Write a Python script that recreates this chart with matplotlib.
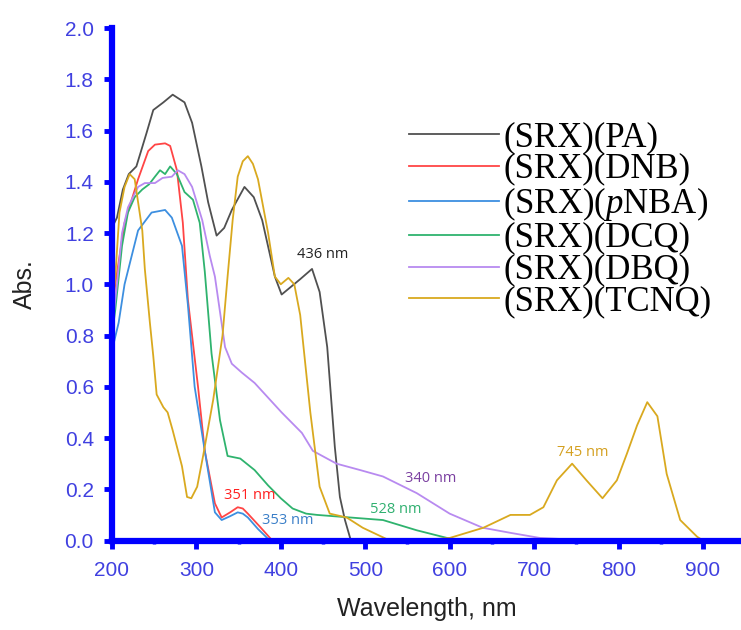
import matplotlib
matplotlib.use("Agg")
import matplotlib.pyplot as plt
from matplotlib.ticker import MultipleLocator

# ---- data (wavelength nm, absorbance) ----
pa_x = [200, 206, 213, 220, 229, 241, 249, 261, 272, 286, 295, 306, 314, 324, 333, 342, 357,
        368, 378, 393, 401, 412, 423, 437, 446, 455, 464, 470, 476, 483]
pa_y = [1.22, 1.26, 1.37, 1.43, 1.46, 1.59, 1.68, 1.71, 1.74, 1.71, 1.63, 1.46, 1.32, 1.19,
        1.22, 1.29, 1.38, 1.34, 1.25, 1.03, 0.96, 0.99, 1.02, 1.06, 0.97, 0.755, 0.365, 0.17,
        0.08, 0.0]

dnb_x = [200, 204, 215, 231, 243, 251, 263, 269, 277, 284, 290, 302, 310, 322, 330, 340, 349,
         355, 361, 375, 390]
dnb_y = [0.88, 1.0, 1.24, 1.41, 1.52, 1.545, 1.55, 1.54, 1.445, 1.24, 0.94, 0.60, 0.35, 0.145,
         0.09, 0.11, 0.13, 0.125, 0.105, 0.055, 0.0]

pnba_x = [200, 208, 215, 231, 247, 263, 271, 283, 290, 298, 310, 322, 330, 340, 349, 355, 361,
          373, 387]
pnba_y = [0.74, 0.85, 1.0, 1.21, 1.28, 1.29, 1.26, 1.15, 0.92, 0.6, 0.35, 0.11, 0.08, 0.095,
          0.11, 0.105, 0.09, 0.045, 0.0]

dcq_x = [200, 204, 212, 219, 227, 236, 244, 251, 257, 263, 269, 277, 286, 296, 304, 310, 318,
         328, 337, 352, 369, 385, 400, 414, 430, 443, 482, 521, 561, 597, 615]
dcq_y = [0.80, 0.9, 1.15, 1.28, 1.34, 1.37, 1.39, 1.42, 1.445, 1.43, 1.46, 1.43, 1.36, 1.33,
         1.24, 1.05, 0.73, 0.47, 0.33, 0.32, 0.275, 0.215, 0.165, 0.125, 0.105, 0.1, 0.09, 0.08,
         0.04, 0.01, 0.0]

dbq_x = [200, 206, 212, 219, 231, 239, 251, 260, 271, 278, 286, 295, 307, 316, 322, 334, 342,
         354, 369, 401, 425, 438, 466, 494, 521, 561, 600, 639, 672, 707, 750, 820]
dbq_y = [0.82, 1.0, 1.2, 1.30, 1.38, 1.395, 1.395, 1.415, 1.42, 1.445, 1.43, 1.38, 1.25, 1.11,
         1.03, 0.755, 0.69, 0.655, 0.615, 0.50, 0.42, 0.35, 0.30, 0.275, 0.25, 0.185, 0.105,
         0.05, 0.03, 0.01, 0.003, 0.0]

tcnq_x = [200, 204, 209, 215, 221, 227, 236, 239, 245, 249, 253, 261, 266, 272, 283, 289, 294,
          301, 308, 320, 331, 337, 343, 349, 355, 361, 367, 373, 385, 393, 400, 409, 416, 423,
          435, 446, 458, 478, 497, 529, 560, 600, 640, 672, 695, 711, 727, 745, 762, 781, 798,
          810, 822, 834, 846, 857, 873, 893, 900]
tcnq_y = [0.9, 1.03, 1.28, 1.38, 1.43, 1.41, 1.21, 1.06, 0.85, 0.72, 0.57, 0.52, 0.50, 0.43,
          0.29, 0.17, 0.165, 0.21, 0.33, 0.55, 0.80, 1.03, 1.25, 1.42, 1.48, 1.50, 1.47, 1.41,
          1.20, 1.03, 1.0, 1.025, 1.0, 0.88, 0.50, 0.21, 0.105, 0.09, 0.05, 0.0, 0.0, 0.01,
          0.05, 0.10, 0.10, 0.13, 0.235, 0.30, 0.235, 0.165, 0.235, 0.34, 0.45, 0.54, 0.485,
          0.26, 0.08, 0.015, 0.0]

labels = ["(SRX)(PA)", "(SRX)(DNB)", "(SRX)($\\it{p}$NBA)", "(SRX)(DCQ)", "(SRX)(DBQ)",
          "(SRX)(TCNQ)"]
colors = ["#505050", "#ff4545", "#3d8fe0", "#2fb36e", "#b88af0", "#d9a91f"]

# peak annotations: text, x, y, colour
peak_text = ["436 nm", "351 nm", "353 nm", "528 nm", "340 nm", "745 nm"]
peak_x = [450, 363, 408, 536, 577, 758]
peak_y = [1.115, 0.174, 0.08, 0.123, 0.244, 0.342]
peak_colors = ["#222222", "#ff2020", "#3a7fc8", "#30b070", "#7a3fa0", "#d4a020"]

plt.rcParams["mathtext.fontset"] = "custom"
plt.rcParams["mathtext.it"] = "Liberation Serif:italic"
plt.rcParams["mathtext.rm"] = "Liberation Serif"

fig = plt.figure(figsize=(7.41, 6.30), dpi=100)
ax = fig.add_axes([0.151, 0.142, 0.849, 0.8135])

series = [(pa_x, pa_y), (dnb_x, dnb_y), (pnba_x, pnba_y), (dcq_x, dcq_y), (dbq_x, dbq_y),
          (tcnq_x, tcnq_y)]
for (xs, ys), lab, c in zip(series, labels, colors):
    ax.plot(xs, ys, color=c, lw=1.3, label=lab)

for t, x, y, c in zip(peak_text, peak_x, peak_y, peak_colors):
    ax.text(x, y, t, color=c, fontsize=10.5, family="Open Sans", ha="center", va="center")

ax.set_xlim(200, 945)
ax.set_ylim(0, 2.0)
ax.xaxis.set_minor_locator(MultipleLocator(50))
ax.yaxis.set_major_locator(MultipleLocator(0.2))
ax.yaxis.set_minor_locator(MultipleLocator(0.1))
ax.set_xticks(range(200, 901, 100))
ax.yaxis.set_major_formatter(matplotlib.ticker.FormatStrFormatter("%.1f"))

blue = "#0000ff"
for side in ["top", "right"]:
    ax.spines[side].set_visible(False)
for side in ["left", "bottom"]:
    ax.spines[side].set_color(blue)
    ax.spines[side].set_linewidth(4.5)
ax.tick_params(which="major", direction="out", length=6, width=3.5, color=blue,
               labelcolor="#4040e0", labelsize=15)
ax.tick_params(axis="y", which="major", pad=7)
ax.tick_params(axis="x", which="major", pad=9)
ax.tick_params(which="minor", direction="out", length=2.5, width=2.5, color=blue)
for lab in ax.get_xticklabels() + ax.get_yticklabels():
    lab.set_family("Liberation Sans")

ax.set_xlabel("Wavelength, nm", fontsize=18, family="Liberation Sans", color="#222222",
              labelpad=12)
ax.set_ylabel("Abs.", fontsize=18, family="Liberation Sans", color="#222222", labelpad=20)

ax.legend(loc="upper left", bbox_to_anchor=(0.45, 0.846), frameon=False,
          prop={"family": "Liberation Serif", "size": 25}, handlelength=2.6,
          handletextpad=0.12, labelspacing=-0.03, borderaxespad=0)

fig.savefig("out.png", dpi=100)
